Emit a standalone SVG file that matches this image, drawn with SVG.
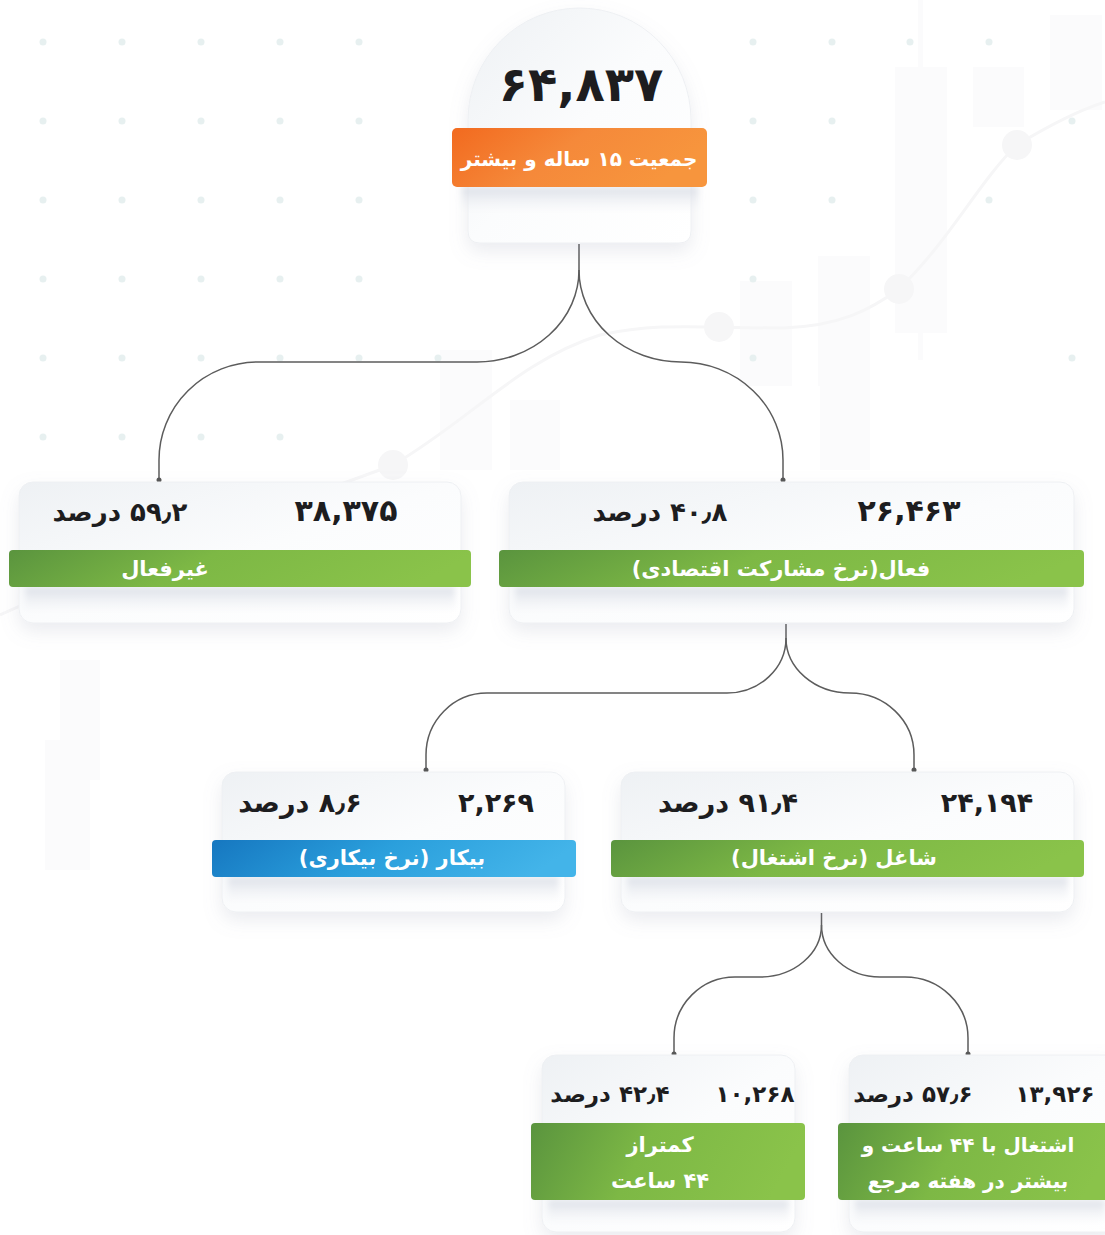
<svg xmlns="http://www.w3.org/2000/svg" width="1105" height="1235" viewBox="0 0 1105 1235">
<style>
.num{font-family:"DejaVu Sans",sans-serif;font-weight:bold;font-size:27px;fill:#1d1d1f;text-anchor:middle;direction:rtl}
.big{font-family:"DejaVu Sans",sans-serif;font-weight:bold;font-size:48px;fill:#1d1d1f;text-anchor:middle;direction:rtl}
.lbl{font-family:"DejaVu Sans",sans-serif;font-weight:bold;font-size:21px;fill:#ffffff;text-anchor:middle;direction:rtl}
.card{fill:url(#cardG);stroke:#eef0f3;stroke-width:1;filter:url(#sh)}
.band{fill:url(#bandG)}
.conn{fill:none;stroke:#5c5c5c;stroke-width:1.5}
.dot{fill:#555}
.bg{fill:#e7f0f0}
.candle{fill:#fbfbfc}
</style>
<defs>
<linearGradient id="cardG" x1="0" y1="0" x2="1" y2="1">
<stop offset="0" stop-color="#eef1f4"/>
<stop offset="0.5" stop-color="#fbfcfd"/>
<stop offset="1" stop-color="#ffffff"/>
</linearGradient>
<linearGradient id="bandG" x1="0" y1="0" x2="0" y2="1">
<stop offset="0" stop-color="#d7dbe4" stop-opacity="0.9"/>
<stop offset="1" stop-color="#eef0f4" stop-opacity="0"/>
</linearGradient>
<linearGradient id="greenG" x1="0" y1="0" x2="1" y2="0.15">
<stop offset="0" stop-color="#5a943e"/>
<stop offset="0.45" stop-color="#7db845"/>
<stop offset="1" stop-color="#8ac34a"/>
</linearGradient>
<linearGradient id="blueG" x1="0" y1="0" x2="1" y2="0.15">
<stop offset="0" stop-color="#1677c0"/>
<stop offset="0.5" stop-color="#2a9fdc"/>
<stop offset="1" stop-color="#43b4e9"/>
</linearGradient>
<linearGradient id="orangeG" x1="0" y1="0" x2="1" y2="0.3">
<stop offset="0" stop-color="#f26a1f"/>
<stop offset="0.5" stop-color="#f5893a"/>
<stop offset="1" stop-color="#f7953d"/>
</linearGradient>
<filter id="sh" x="-10%" y="-10%" width="120%" height="140%">
<feDropShadow dx="0" dy="8" stdDeviation="9" flood-color="#8f98aa" flood-opacity="0.18"/>
</filter>
<filter id="bl" x="-5%" y="-50%" width="110%" height="200%">
<feGaussianBlur stdDeviation="3"/>
</filter>
</defs>

<rect width="1105" height="1235" fill="#ffffff"/>

<g id="background">
<rect class="candle" x="895" y="67" width="52" height="266"/>
<rect class="candle" x="918" y="0" width="5" height="360"/>
<rect class="candle" x="973" y="67" width="51" height="60"/>
<rect class="candle" x="1050" y="15" width="52" height="95"/>
<rect class="candle" x="740" y="281" width="52" height="105"/>
<rect class="candle" x="818" y="256" width="52" height="130"/>
<rect class="candle" x="820" y="340" width="50" height="130"/>
<rect class="candle" x="440" y="350" width="52" height="120"/>
<rect class="candle" x="510" y="400" width="50" height="70"/>
<rect class="candle" x="60" y="660" width="40" height="120"/>
<rect class="candle" x="45" y="740" width="45" height="130"/>
<path d="M0,615 C120,560 300,500 393,465 C470,420 520,360 600,335 C660,322 700,328 783,328 C840,326 870,310 899,289 C950,240 980,180 1017,145 C1050,125 1080,110 1105,102" fill="none" stroke="#f6f6f7" stroke-width="3"/>
<circle cx="393" cy="465" r="15" fill="#f6f6f7"/>
<circle cx="719" cy="327" r="15" fill="#f6f6f7"/>
<circle cx="899" cy="289" r="15" fill="#f6f6f7"/>
<circle cx="1017" cy="145" r="15" fill="#f6f6f7"/>
<g>
<circle class="bg" cx="43" cy="42" r="3.5"/><circle class="bg" cx="122" cy="42" r="3.5"/><circle class="bg" cx="201" cy="42" r="3.5"/><circle class="bg" cx="280" cy="42" r="3.5"/><circle class="bg" cx="359" cy="42" r="3.5"/><circle class="bg" cx="753" cy="42" r="3.5"/><circle class="bg" cx="832" cy="42" r="3.5"/><circle class="bg" cx="910" cy="42" r="3.5"/><circle class="bg" cx="989" cy="42" r="3.5"/>
<circle class="bg" cx="43" cy="121" r="3.5"/><circle class="bg" cx="122" cy="121" r="3.5"/><circle class="bg" cx="201" cy="121" r="3.5"/><circle class="bg" cx="280" cy="121" r="3.5"/><circle class="bg" cx="359" cy="121" r="3.5"/><circle class="bg" cx="753" cy="121" r="3.5"/><circle class="bg" cx="832" cy="121" r="3.5"/><circle class="bg" cx="1072" cy="121" r="3.5"/>
<circle class="bg" cx="43" cy="200" r="3.5"/><circle class="bg" cx="122" cy="200" r="3.5"/><circle class="bg" cx="201" cy="200" r="3.5"/><circle class="bg" cx="280" cy="200" r="3.5"/><circle class="bg" cx="359" cy="200" r="3.5"/><circle class="bg" cx="753" cy="200" r="3.5"/><circle class="bg" cx="832" cy="200" r="3.5"/><circle class="bg" cx="989" cy="200" r="3.5"/>
<circle class="bg" cx="43" cy="279" r="3.5"/><circle class="bg" cx="122" cy="279" r="3.5"/><circle class="bg" cx="201" cy="279" r="3.5"/><circle class="bg" cx="280" cy="279" r="3.5"/><circle class="bg" cx="359" cy="279" r="3.5"/><circle class="bg" cx="753" cy="279" r="3.5"/>
<circle class="bg" cx="43" cy="358" r="3.5"/><circle class="bg" cx="122" cy="358" r="3.5"/><circle class="bg" cx="201" cy="358" r="3.5"/><circle class="bg" cx="280" cy="358" r="3.5"/><circle class="bg" cx="359" cy="358" r="3.5"/><circle class="bg" cx="438" cy="358" r="3.5"/><circle class="bg" cx="753" cy="358" r="3.5"/><circle class="bg" cx="1072" cy="358" r="3.5"/>
<circle class="bg" cx="43" cy="437" r="3.5"/><circle class="bg" cx="122" cy="437" r="3.5"/><circle class="bg" cx="201" cy="437" r="3.5"/><circle class="bg" cx="280" cy="437" r="3.5"/>
</g>
</g>

<g id="connectors">
<path class="conn" d="M579,244 V270 A102,92 0 0 1 477,362 H258 A99,98 0 0 0 159,460 V480"/>
<path class="conn" d="M579,270 A102,92 0 0 0 681,362 A102,98 0 0 1 783,460 V480"/>
<path class="conn" d="M786,624 V638 A59,55 0 0 1 727,693 H487 A61,62 0 0 0 426,755 V770"/>
<path class="conn" d="M786,638 A64,55 0 0 0 850,693 A64,62 0 0 1 914,755 V770"/>
<path class="conn" d="M821.5,913 V925 A61.5,52 0 0 1 760,977 H735 A61,61 0 0 0 674,1038 V1054"/>
<path class="conn" d="M821.5,925 A58.5,52 0 0 0 880,977 H905 A63,61 0 0 1 968,1038 V1054"/>
<circle class="dot" cx="159" cy="480" r="2.5"/>
<circle class="dot" cx="783" cy="480" r="2.5"/>
<circle class="dot" cx="426" cy="770" r="2.5"/>
<circle class="dot" cx="914" cy="770" r="2.5"/>
<circle class="dot" cx="674" cy="1054" r="2.5"/>
<circle class="dot" cx="968" cy="1054" r="2.5"/>
</g>

<g id="node-total">
<path class="card" d="M468,231 V120 A111.5,112 0 0 1 691,120 V231 Q691,243 679,243 H480 Q468,243 468,231 Z"/>
<rect class="band" x="462" y="187" width="236" height="26" filter="url(#bl)"/>
<rect x="452" y="128" width="255" height="59" rx="5" fill="url(#orangeG)"/>
<text class="big" x="581" y="101">۶۴,۸۳۷</text>
<text class="lbl" x="579" y="166" style="font-size:20px">جمعیت ۱۵ ساله و بیشتر</text>
</g>

<g id="node-inactive">
<rect class="card" x="19" y="482" width="442" height="141" rx="14"/>
<rect class="band" x="25" y="587" width="430" height="26" filter="url(#bl)"/>
<rect x="9" y="550" width="462" height="37" rx="4" fill="url(#greenG)"/>
<text class="num" x="346" y="521" style="font-size:30px">۳۸,۳۷۵</text>
<text class="num" x="120" y="521" style="font-size:26px">۵۹٫۲ درصد</text>
<text class="lbl" x="165" y="576">غیرفعال</text>
</g>

<g id="node-active">
<rect class="card" x="509" y="482" width="565" height="141" rx="14"/>
<rect class="band" x="515" y="587" width="553" height="26" filter="url(#bl)"/>
<rect x="499" y="550" width="585" height="37" rx="4" fill="url(#greenG)"/>
<text class="num" x="909" y="521" style="font-size:30px">۲۶,۴۶۳</text>
<text class="num" x="660" y="521" style="font-size:26px">۴۰٫۸ درصد</text>
<text class="lbl" x="781" y="576">فعال(نرخ مشارکت اقتصادی)</text>
</g>

<g id="node-unemployed">
<rect class="card" x="222" y="772" width="343" height="140" rx="14"/>
<rect class="band" x="228" y="877" width="331" height="26" filter="url(#bl)"/>
<rect x="212" y="840" width="364" height="37" rx="4" fill="url(#blueG)"/>
<text class="num" x="496" y="812">۲,۲۶۹</text>
<text class="num" x="300" y="812">۸٫۶ درصد</text>
<text class="lbl" x="392" y="865">بیکار (نرخ بیکاری)</text>
</g>

<g id="node-employed">
<rect class="card" x="621" y="772" width="453" height="140" rx="14"/>
<rect class="band" x="627" y="877" width="441" height="26" filter="url(#bl)"/>
<rect x="611" y="840" width="473" height="37" rx="4" fill="url(#greenG)"/>
<text class="num" x="987" y="812">۲۴,۱۹۴</text>
<text class="num" x="728" y="812">۹۱٫۴ درصد</text>
<text class="lbl" x="834" y="865">شاغل (نرخ اشتغال)</text>
</g>

<g id="node-under44">
<rect class="card" x="542" y="1055" width="253" height="177" rx="14"/>
<rect class="band" x="548" y="1200" width="241" height="24" filter="url(#bl)"/>
<rect x="531" y="1123" width="274" height="77" rx="4" fill="url(#greenG)"/>
<text class="num" x="755" y="1102" style="font-size:23px">۱۰,۲۶۸</text>
<text class="num" x="610" y="1102" style="font-size:23px">۴۲٫۴ درصد</text>
<text class="lbl" x="660" y="1152">کمتراز</text>
<text class="lbl" x="660" y="1188">۴۴ ساعت</text>
</g>

<g id="node-44plus">
<rect class="card" x="849" y="1055" width="270" height="177" rx="14"/>
<rect class="band" x="855" y="1200" width="250" height="24" filter="url(#bl)"/>
<rect x="838" y="1123" width="280" height="77" rx="4" fill="url(#greenG)"/>
<text class="num" x="1055" y="1102" style="font-size:23px">۱۳,۹۲۶</text>
<text class="num" x="913" y="1102" style="font-size:23px">۵۷٫۶ درصد</text>
<text class="lbl" x="968" y="1152" style="font-size:20px">اشتغال با ۴۴ ساعت و</text>
<text class="lbl" x="968" y="1188" style="font-size:20px">بیشتر در هفته مرجع</text>
</g>
</svg>
